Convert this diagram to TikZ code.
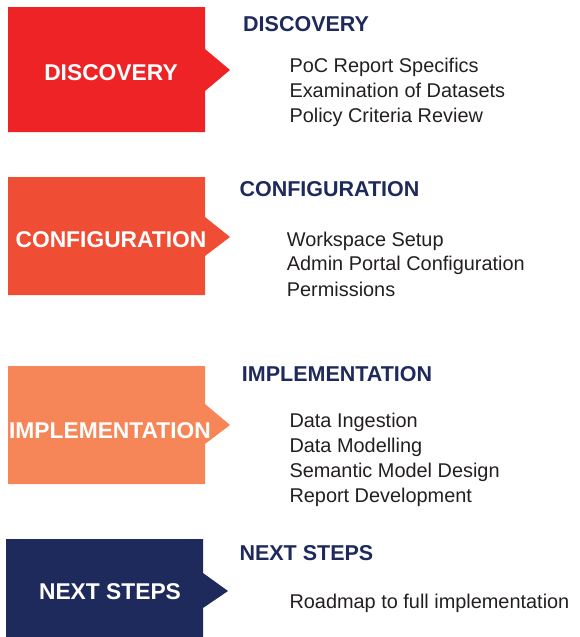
\documentclass[tikz,border=0pt]{standalone}
\usepackage{fontspec}
\setmainfont{Liberation Sans}
\definecolor{cRed}{HTML}{EE2326}
\definecolor{cOrange}{HTML}{EF4E35}
\definecolor{cPeach}{HTML}{F68657}
\definecolor{cNavy}{HTML}{1E2A5C}
\definecolor{cText}{HTML}{231F20}
\tikzset{
  boxlabel/.style={inner sep=0pt, anchor=base, text=white, font=\fontsize{22.8}{26}\selectfont\bfseries},
  heading/.style={inner sep=0pt, anchor=base west, text=cNavy, font=\fontsize{21.5}{25}\selectfont\bfseries},
  item/.style={inner sep=0pt, anchor=base west, text=cText, font=\fontsize{19.9}{24}\selectfont},
}
\begin{document}
\begin{tikzpicture}[x=1pt,y=-1pt]
\useasboundingbox (0,0) rectangle (579,637);
% shapes
\fill[cRed] (8,7) -- (205,7) -- (205,49) -- (230,70) -- (205,91) -- (205,132) -- (8,132) -- cycle;
\fill[cOrange] (8,177) -- (205,177) -- (205,217) -- (230,237) -- (205,256) -- (205,295) -- (8,295) -- cycle;
\fill[cPeach] (8,366) -- (205,366) -- (205,404) -- (230,425) -- (205,444) -- (205,484) -- (8,484) -- cycle;
\fill[cNavy] (6,539) -- (203,539) -- (203,573) -- (228,591) -- (203,608) -- (203,637) -- (6,637) -- cycle;
% box labels
\node[boxlabel] (b1) at (111,80) {DISCOVERY};
\node[boxlabel] (b2) at (111,247) {CONFIGURATION};
\node[boxlabel] (b3) at (110,438.3) {IMPLEMENTATION};
\node[boxlabel] (b4) at (110,599.5) {NEXT STEPS};
% headings
\node[heading] (h1) at (243,31) {DISCOVERY};
\node[heading] (h2) at (239.3,196) {CONFIGURATION};
\node[heading] (h3) at (241.7,381.7) {IMPLEMENTATION};
\node[heading] (h4) at (239.3,560) {NEXT STEPS};
% items
\node[item] (d1) at (289.3,72.7) {PoC Report Specifics};
\node[item] (d2) at (289.3,97.3) {Examination of Datasets};
\node[item] (d3) at (289.3,122.7) {Policy Criteria Review};
\node[item] (c1) at (286.7,246) {Workspace Setup};
\node[item] (c2) at (286.7,270.7) {Admin Portal Configuration};
\node[item] (c3) at (286.7,296) {Permissions};
\node[item] (i1) at (289.3,427.7) {Data Ingestion};
\node[item] (i2) at (289.3,452.3) {Data Modelling};
\node[item] (i3) at (289.3,477.7) {Semantic Model Design};
\node[item] (i4) at (289.3,502.7) {Report Development};
\node[item] (n1) at (289.3,608.3) {Roadmap to full implementation};
\end{tikzpicture}
\end{document}
